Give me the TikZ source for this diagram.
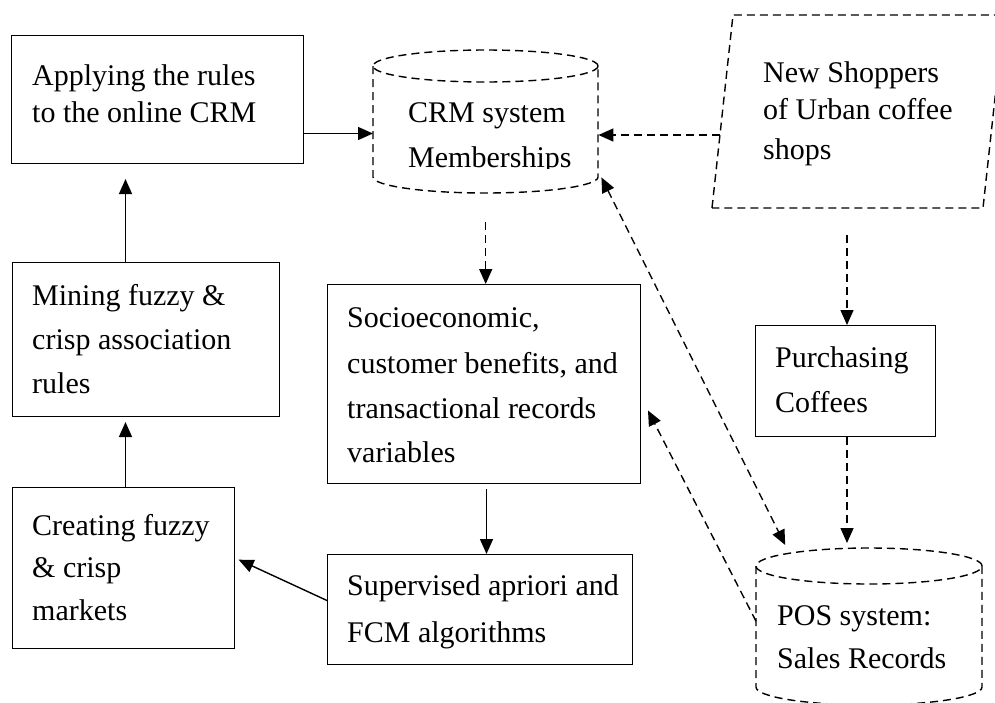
\documentclass[tikz,border=0pt]{standalone}
\usepackage{fontspec}
\setmainfont{Liberation Serif}
\usetikzlibrary{arrows.meta}
\begin{document}
\begin{tikzpicture}[x=1pt,y=-1pt,
  box/.style={draw, line width=1pt, rectangle, inner sep=0pt, anchor=north west},
  ghost/.style={rectangle, inner sep=0pt, anchor=north west},
  txt/.style={anchor=base west, inner sep=0pt, font=\fontsize{30}{36}\selectfont},
  tip/.style={},
  arr/.style={-{Triangle[length=15pt,width=13pt]}, line width=1.4pt},
  darr/.style={arr, dash pattern=on 8pt off 5pt},
  ddarr/.style={{Triangle[length=15pt,width=13pt]}-{Triangle[length=15pt,width=13pt]}, line width=1.4pt, dash pattern=on 8pt off 5pt},
  dashline/.style={line width=1.4pt, dash pattern=on 8pt off 5pt}]
\useasboundingbox (0,0) rectangle (995,702);
\clip (0,0) rectangle (995,702);
\fill[white] (0,0) rectangle (995,702);

% boxes
\node[box, minimum width=292pt, minimum height=128pt] (a) at (11,35) {};
\node[box, minimum width=267pt, minimum height=154pt] (m) at (12,262) {};
\node[box, minimum width=222pt, minimum height=161pt] (cr) at (12,487) {};
\node[box, minimum width=313pt, minimum height=199pt] (so) at (327,284) {};
\node[box, minimum width=305pt, minimum height=110pt] (sup) at (327,554) {};
\node[box, minimum width=180pt, minimum height=111pt] (pu) at (755,325) {};
\node[ghost, minimum width=225pt, minimum height=144pt] (crm) at (373,49) {};
\node[ghost, minimum width=226pt, minimum height=158pt] (pos) at (756,547) {};
\coordinate (paraL) at (720,135);
\coordinate (paraB) at (847,208);

% CRM cylinder
\draw[dashline] (485.5,66) ellipse [x radius=112.5pt, y radius=16pt];
\draw[dashline] (373,66) -- (373,177) arc[start angle=180, end angle=360, x radius=112.5pt, y radius=16pt] -- (598,66);
% POS cylinder
\draw[dashline] (869,566) ellipse [x radius=113pt, y radius=18pt];
\draw[dashline] (756,566) -- (756,687) arc[start angle=180, end angle=360, x radius=113pt, y radius=18pt] -- (982,566);
% parallelogram
\draw[dashline] (712,208) -- (733,15) -- (1004,15) -- (983,208) -- cycle;

% texts
\node[txt] (a1) at (32,85) {Applying the rules};
\node[txt] (a2) at (32,122) {to the online CRM};
\node[txt] (c1) at (408,122) {CRM system};
\begin{scope}
\clip (380,130) rectangle (595,168);
\node[txt] (c2) at (408,167) {Memberships};
\end{scope}
\node[txt] (p1) at (763,82) {New Shoppers};
\node[txt] (p2) at (763,119) {of Urban coffee};
\node[txt] (p3) at (763,159) {shops};
\node[txt] (m1) at (32,305) {Mining fuzzy \&};
\node[txt] (m2) at (32,349) {crisp association};
\node[txt] (m3) at (32,393) {rules};
\node[txt] (s1) at (347,327) {Socioeconomic,};
\node[txt] (s2) at (347,373) {customer benefits, and};
\node[txt] (s3) at (347,418) {transactional records};
\node[txt] (s4) at (347,462) {variables};
\node[txt] (pu1) at (775,367) {Purchasing};
\node[txt] (pu2) at (775,412) {Coffees};
\node[txt] (cr1) at (32,535) {Creating fuzzy};
\node[txt] (cr2) at (32,577) {\& crisp};
\node[txt] (cr3) at (32,620) {markets};
\node[txt] (su1) at (347,595) {Supervised apriori and};
\node[txt] (su2) at (347,642) {FCM algorithms};
\node[txt] (pos1) at (777,625) {POS system:};
\node[txt] (pos2) at (777,668) {Sales Records};

% connectors
\draw[arr] ([yshift=-34pt]a.east) -- ([yshift=-34pt]a.east -| crm.west);
\draw[darr] (paraL) -- (paraL -| crm.east);
\draw[darr, shorten <=29pt] (crm.south) -- (crm.south |- so.north);
\draw[arr, shorten >=15pt] ([xshift=-20.5pt]m.north) -- ([xshift=-20.5pt]m.north |- a.south);
\draw[arr, shorten >=5pt] ([xshift=2pt]cr.north) -- ([xshift=2pt]cr.north |- m.south);
\draw[arr, shorten >=4pt] ([yshift=9pt]sup.west) -- ([yshift=10pt]cr.east);
\draw[arr, shorten <=5pt] ([xshift=2.5pt]so.south) -- ([xshift=2.5pt]so.south |- sup.north);
\draw[darr, shorten <=27pt] (paraB) -- (paraB |- pu.north);
\draw[darr, shorten >=4pt] (paraB |- pu.south) -- (paraB |- pos.north);
\draw[ddarr] ([xshift=3pt,yshift=16pt]crm.south east) -- ([xshift=-84pt,yshift=2pt]pos.north);
\draw[darr] ([yshift=5pt]pos.west) -- ([xshift=7pt,yshift=-26.5pt]so.east);
\end{tikzpicture}
\end{document}
